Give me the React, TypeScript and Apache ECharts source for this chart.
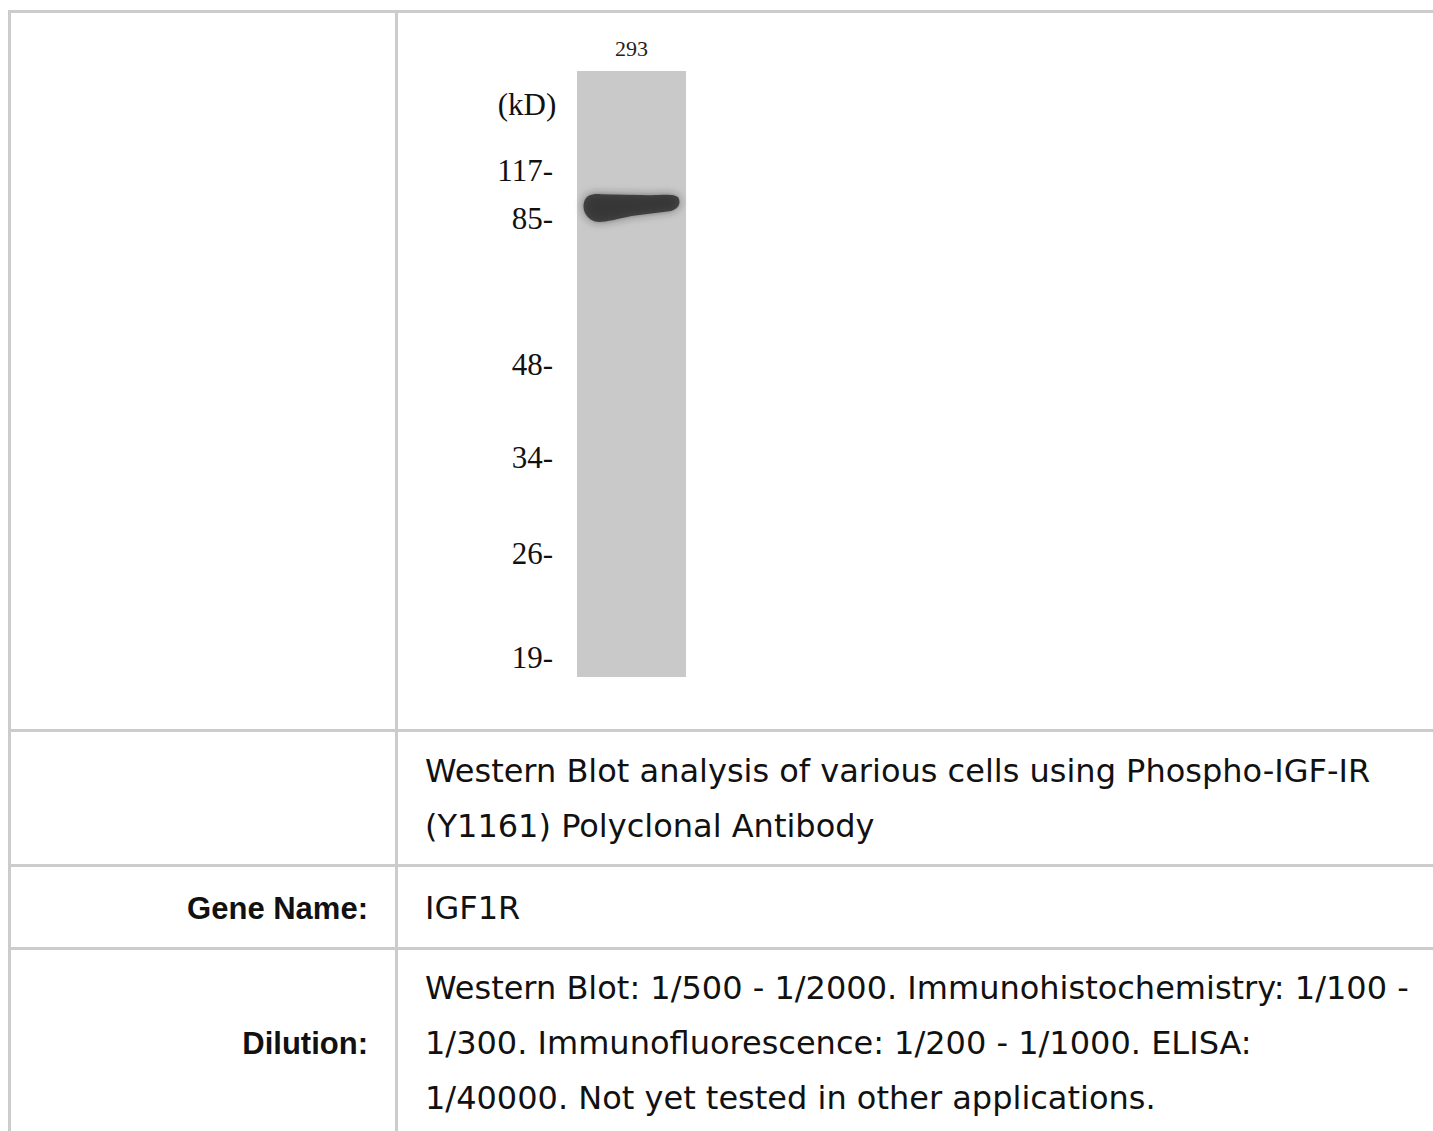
import React, { useEffect, useRef } from "react";
import * as echarts from "echarts";

// ---- data ----
const laneNames = ["293"];
const markerLabels = ["117", "85", "48", "34", "26", "19"];
// relative mobility down the lane (0 = top of lane, 1 = bottom)
const markerMobility = [0.165, 0.244, 0.4835, 0.6386, 0.797, 0.967];
const bandMobility = [0.226];
const unitLabel = "(kD)";

const captionLines = [
  "Western Blot analysis of various cells using Phospho-IGF-IR",
  "(Y1161) Polyclonal Antibody",
];
const geneLabel = "Gene Name:";
const geneValue = "IGF1R";
const dilutionLabel = "Dilution:";
const dilutionLines = [
  "Western Blot: 1/500 - 1/2000. Immunohistochemistry: 1/100 -",
  "1/300. Immunofluorescence: 1/200 - 1/1000. ELISA:",
  "1/40000. Not yet tested in other applications.",
];

const BAND_PATH =
  "path://M2 9 C0 15 2 24 12 28 C20 30 30 27 50 23 L90 18 C98 16 100 10 97 5 C94 2 85 2 70 3 L20 2 C10 1 4 3 2 9 Z";

const SANS = "DejaVu Sans";
const LABEL_SANS = "Liberation Sans";
const SERIF = "Liberation Serif";

export default function App() {
  const ref = useRef<HTMLDivElement>(null);
  useEffect(() => {
    if (!ref.current) return;
    const chart = echarts.init(ref.current, null, { renderer: "svg" });
    const line = "#cccccc";
    const rects = [
      { x: 8, y: 10, width: 1425, height: 3 },
      { x: 8, y: 10, width: 3, height: 1121 },
      { x: 395, y: 13, width: 3, height: 1118 },
      { x: 11, y: 729, width: 1422, height: 3 },
      { x: 11, y: 864, width: 1422, height: 3 },
      { x: 11, y: 947, width: 1422, height: 3 },
    ].map((s) => ({ type: "rect", shape: s, style: { fill: line }, silent: true }));

    const textStyle = (t: string, x: number, y: number, extra: any = {}) => ({
      type: "text",
      x,
      y,
      style: {
        text: t,
        fill: "#111",
        font: `32px "${SANS}"`,
        verticalAlign: "middle",
        align: "left",
        ...extra,
      },
    });

    const texts: any[] = [];
    captionLines.forEach((t, i) => texts.push(textStyle(t, 425, 771 + i * 55)));
    texts.push(textStyle(geneLabel, 368, 908, { align: "right", font: `bold 31px "${LABEL_SANS}"` }));
    texts.push(textStyle(geneValue, 425, 908));
    texts.push(textStyle(dilutionLabel, 368, 1043, { align: "right", font: `bold 31px "${LABEL_SANS}"` }));
    dilutionLines.forEach((t, i) => texts.push(textStyle(t, 425, 988 + i * 55)));
    texts.push({
      type: "text",
      x: 527,
      y: 104,
      style: { text: unitLabel, fill: "#111", font: `31px "${SERIF}"`, align: "center", verticalAlign: "middle" },
    });

    chart.setOption({
      animation: false,
      backgroundColor: "#ffffff",
      grid: {
        left: 577,
        top: 71,
        width: 109,
        height: 606,
        show: true,
        backgroundColor: "#c9c9c9",
        borderWidth: 0,
      },
      xAxis: {
        type: "category",
        data: laneNames,
        position: "top",
        axisLine: { show: false },
        axisTick: { show: false },
        axisLabel: { fontFamily: SERIF, fontSize: 22, color: "#222", margin: 12 },
      },
      yAxis: {
        type: "value",
        min: 0,
        max: 1,
        inverse: true,
        axisLine: { show: false },
        axisTick: { show: false },
        splitLine: { show: false },
        axisLabel: {
          customValues: markerMobility,
          formatter: (v: number) => {
            let best = 0;
            markerMobility.forEach((m, i) => {
              if (Math.abs(m - v) < Math.abs(markerMobility[best] - v)) best = i;
            });
            return markerLabels[best] + "-";
          },
          margin: 24,
          fontFamily: SERIF,
          fontSize: 31,
          color: "#111",
        },
      },
      series: [
        {
          type: "scatter",
          data: bandMobility.map((m) => [0, m]),
          symbol: BAND_PATH,
          symbolSize: [96, 28],
          itemStyle: {
            color: "#2a2a2a",
            shadowBlur: 8,
            shadowColor: "rgba(40,40,40,0.7)",
          },
          silent: true,
        },
      ],
      graphic: [...rects, ...texts],
    });
    return () => chart.dispose();
  }, []);
  return (
    <div
      ref={ref}
      style={{ position: "fixed", left: 0, top: 0, width: 1433, height: 1131, background: "#fff" }}
    />
  );
}
